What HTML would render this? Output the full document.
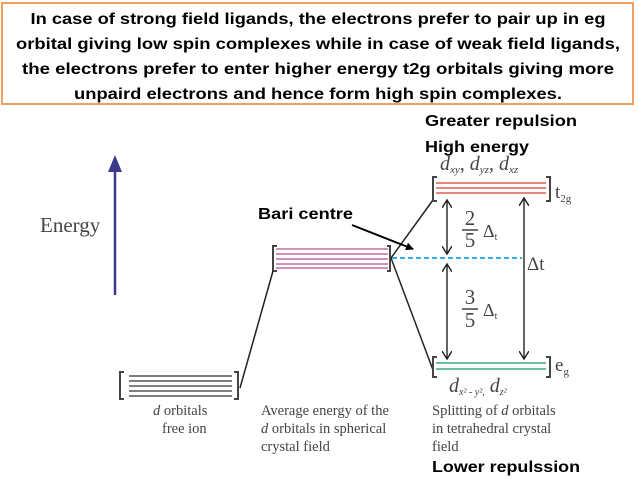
<!DOCTYPE html>
<html><head><meta charset="utf-8"><style>
html,body{margin:0;padding:0;background:#fff;width:638px;height:479px;overflow:hidden}
svg{display:block}
.b{font-family:"Liberation Sans",sans-serif;font-weight:bold;fill:#000}
.s{font-family:"Liberation Serif",serif;fill:#444}
</style></head><body>
<svg width="638" height="479" viewBox="0 0 638 479" xmlns="http://www.w3.org/2000/svg">
<defs>
<marker id="ah" markerWidth="8" markerHeight="8" refX="7" refY="4" orient="auto" markerUnits="userSpaceOnUse"><path d="M0,0 L8,4 L0,8 z" fill="#000"/></marker>
<marker id="oh" markerWidth="10" markerHeight="10" refX="8" refY="5" orient="auto-start-reverse" markerUnits="userSpaceOnUse"><path d="M0,0 L8,5 L0,10" fill="none" stroke="#222" stroke-width="1.4"/></marker>
</defs>
<rect x="2" y="3" width="631" height="101" fill="#fff" stroke="#f0a060" stroke-width="2"/>
<g class="b" font-size="16" text-anchor="middle">
<text x="318" y="24" textLength="575" lengthAdjust="spacingAndGlyphs">In case of strong field ligands, the electrons prefer to pair up in eg</text>
<text x="318" y="49" textLength="604" lengthAdjust="spacingAndGlyphs">orbital giving low spin complexes while in case of weak field ligands,</text>
<text x="318" y="74" textLength="592" lengthAdjust="spacingAndGlyphs">the electrons prefer to enter higher energy t2g orbitals giving more</text>
<text x="318" y="99" textLength="488" lengthAdjust="spacingAndGlyphs">unpaird electrons and hence form high spin complexes.</text>
</g>
<text class="b" x="425" y="126" font-size="16" textLength="152" lengthAdjust="spacingAndGlyphs">Greater repulsion</text>
<text class="b" x="425" y="152" font-size="16" textLength="104" lengthAdjust="spacingAndGlyphs">High energy</text>
<text class="b" x="258" y="219" font-size="16" textLength="95" lengthAdjust="spacingAndGlyphs">Bari centre</text>
<text class="b" x="432" y="472" font-size="16" textLength="148" lengthAdjust="spacingAndGlyphs">Lower repulssion</text>
<line x1="115" y1="295" x2="115" y2="170" stroke="#3a3a8c" stroke-width="2.5"/>
<path d="M108,172 L115,155 L122,172 z" fill="#3a3a8c"/>
<text class="s" x="40" y="232" font-size="21" fill="#555">Energy</text>
<g stroke="#333" stroke-width="1.3">
<line x1="129" y1="376" x2="232" y2="376"/><line x1="129" y1="381" x2="232" y2="381"/><line x1="129" y1="386" x2="232" y2="386"/><line x1="129" y1="391" x2="232" y2="391"/><line x1="129" y1="396" x2="232" y2="396"/>
</g>
<path d="M124,372 H120 V399 H124 M234,372 H238 V399 H234" fill="none" stroke="#444" stroke-width="2"/>
<g stroke="#b0508a" stroke-width="1.3">
<line x1="276" y1="249" x2="388" y2="249"/><line x1="276" y1="254" x2="388" y2="254"/><line x1="276" y1="259" x2="388" y2="259"/><line x1="276" y1="264" x2="388" y2="264"/><line x1="276" y1="268" x2="388" y2="268"/>
</g>
<path d="M277,246 H273 V271 H277 M387,246 H390 V271 H387" fill="none" stroke="#444" stroke-width="2"/>
<line x1="240" y1="388" x2="273" y2="271" stroke="#222" stroke-width="1.5"/>
<line x1="391" y1="258" x2="433" y2="200" stroke="#222" stroke-width="1.5"/>
<line x1="391" y1="258" x2="433" y2="370" stroke="#222" stroke-width="1.5"/>
<g stroke="#e06050" stroke-width="1.5"><line x1="436" y1="183" x2="546" y2="183"/><line x1="436" y1="188" x2="546" y2="188"/><line x1="436" y1="193" x2="546" y2="193"/></g>
<path d="M437,177 H433 V201 H437 M546,177 H550 V201 H546" fill="none" stroke="#444" stroke-width="2"/>
<text class="s" x="555" y="198" font-size="19">t<tspan font-size="11" dy="4">2g</tspan></text>
<text class="s" x="440" y="170" font-size="20" font-style="italic">d<tspan font-size="11" dy="3">xy</tspan><tspan dy="-3">, </tspan>d<tspan font-size="11" dy="3">yz</tspan><tspan dy="-3">, </tspan>d<tspan font-size="11" dy="3">xz</tspan></text>
<g stroke="#40a880" stroke-width="1.5"><line x1="436" y1="363" x2="546" y2="363"/><line x1="436" y1="369" x2="546" y2="369"/></g>
<path d="M437,357 H433 V377 H437 M546,357 H550 V377 H546" fill="none" stroke="#444" stroke-width="2"/>
<text class="s" x="555" y="371" font-size="19">e<tspan font-size="11" dy="4">g</tspan></text>
<text class="s" x="449" y="392" font-size="20" font-style="italic">d<tspan font-size="10" dy="3">x² - y²,</tspan><tspan dy="-3"> d</tspan><tspan font-size="10" dy="3">z²</tspan></text>
<line x1="392" y1="258" x2="522" y2="258" stroke="#30b0e0" stroke-width="2" stroke-dasharray="5,3"/>
<text class="s" x="527" y="270" font-size="19">Δt</text>
<line x1="447" y1="200" x2="447" y2="254" stroke="#222" stroke-width="1.4" marker-start="url(#oh)" marker-end="url(#oh)"/>
<line x1="447" y1="264" x2="447" y2="359" stroke="#222" stroke-width="1.4" marker-start="url(#oh)" marker-end="url(#oh)"/>
<line x1="524" y1="198" x2="524" y2="359" stroke="#222" stroke-width="1.4" marker-start="url(#oh)" marker-end="url(#oh)"/>
<g class="s" font-size="21" text-anchor="middle" fill="#333">
<text x="470" y="225">2</text><line x1="462" y1="230" x2="478" y2="230" stroke="#333" stroke-width="1.4"/><text x="470" y="247">5</text>
<text x="470" y="304">3</text><line x1="462" y1="309" x2="478" y2="309" stroke="#333" stroke-width="1.4"/><text x="470" y="327">5</text>
</g>
<text class="s" x="483" y="237" font-size="18" fill="#333">Δ<tspan font-size="10" dy="3">t</tspan></text>
<text class="s" x="483" y="316" font-size="18" fill="#333">Δ<tspan font-size="10" dy="3">t</tspan></text>
<line x1="352" y1="225" x2="413" y2="249" stroke="#000" stroke-width="2" marker-end="url(#ah)"/>
<g class="s" font-size="14.5">
<text x="153" y="415"><tspan font-style="italic">d</tspan> orbitals</text>
<text x="162" y="433">free ion</text>
<text x="261" y="415">Average energy of the</text>
<text x="261" y="433"><tspan font-style="italic">d</tspan> orbitals in spherical</text>
<text x="261" y="451">crystal field</text>
<text x="432" y="415">Splitting of <tspan font-style="italic">d</tspan> orbitals</text>
<text x="432" y="433">in tetrahedral crystal</text>
<text x="432" y="451">field</text>
</g>
</svg>
</body></html>
